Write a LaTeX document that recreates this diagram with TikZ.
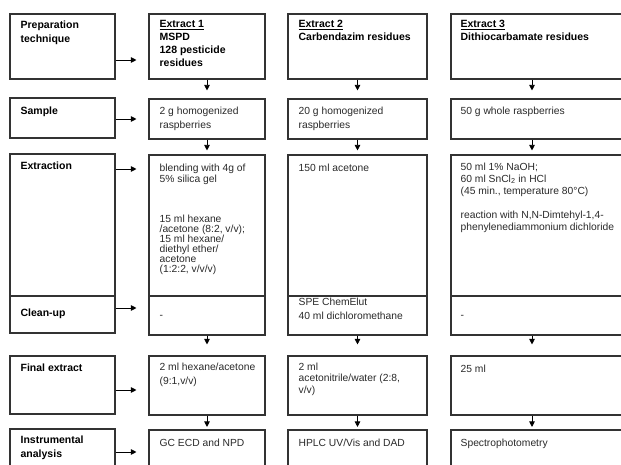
\documentclass[tikz,border=0pt]{standalone}
\usepackage{fontspec}
\setmainfont{Liberation Sans}
\usetikzlibrary{
  arrows.meta,
  positioning,
  calc
}
\definecolor{framegray}{HTML}{333333}
\definecolor{inkgray}{HTML}{2A2A2A}

\begin{document}
\begin{tikzpicture}[
    x=1pt, y=-1pt, % pixel grid of the page, y runs downwards
    stagebox/.style={
      rectangle, draw=framegray, line width=1.1pt, inner sep=0pt
    },
    stagelabel/.style={
      font=\bfseries\fontsize{10.5}{13.8}\selectfont,
      align=left, inner sep=0pt, anchor=north west
    },
    headtext/.style={
      stagelabel, font=\bfseries\fontsize{10.5}{12.9}\selectfont
    },
    methodtext/.style={
      font=\fontsize{10.3}{#1}\selectfont, text=inkgray,
      align=left, inner sep=0pt, anchor=north west
    },
    methodtext/.default=11.5,
    arrow/.style={-{Triangle[length=5.5pt,width=5.5pt]}, line width=0.8pt},
  ]

  % --- Canvas ---
  \useasboundingbox[fill=white] (0,0) rectangle (621,465);
  \clip (0,0) rectangle (621,465);

  % --- Row boxes (left) ---
  \foreach \row/\cy/\h in {prep/46.5/65, sample/118/40, extr/225/142,
                          clean/314.5/37, final/385/58, instr/452/46}
    \node[stagebox, minimum width=105pt, minimum height=\h pt] (l\row) at (62.5,\cy) {};

  % --- Extract columns ---
  \foreach \col/\cx/\w in {1/207/116, 2/357.5/139, 3/545.5/189}
    \foreach \row/\cy/\h in {prep/46.5/65, sample/119/40, extr/225.5/141,
                            clean/315.5/39, final/385.5/59, instr/453/46}
      \node[stagebox, minimum width=\w pt, minimum height=\h pt] (\row\col) at (\cx,\cy) {};

  % --- Row labels ---
  \node[stagelabel] (tprep)   at ($(lprep.north west)+(11,7)$)   {Preparation\\technique};
  \node[stagelabel] (tsample) at ($(lsample.north west)+(11,9.5)$) {Sample};
  \node[stagelabel] (textr)   at ($(lextr.north west)+(11,8)$)   {Extraction};
  \node[stagelabel] (tclean)  at ($(lclean.north west)+(11,13)$) {Clean-up};
  \node[stagelabel] (tfinal)  at ($(lfinal.north west)+(11,8)$)  {Final extract};
  \node[stagelabel] (tinstr)  at ($(linstr.north west)+(11,7)$)  {Instrumental\\analysis};

  % --- Column 1 ---
  \node[headtext] (hdr1) at ($(prep1.north west)+(11,7)$)
    {\underline{Extract 1}\\MSPD\\128 pesticide\\residues};
  \node[methodtext=14] (smp1) at ($(sample1.north west)+(11,8)$)
    {2 g homogenized\\raspberries};
  \node[methodtext=11] (ext1a) at ($(extr1.north west)+(11,9.3)$)
    {blending with 4g of\\5\% silica gel};
  \node[methodtext=10.1] (ext1b) at ($(extr1.north west)+(11,60.3)$)
    {15 ml hexane\\/acetone (8:2, v/v);\\15 ml hexane/\\diethyl ether/\\acetone\\(1:2:2, v/v/v)};
  \node[methodtext, anchor=base west] (cln1) at ($(clean1.north west)+(11,23.5)$) {-};
  \node[methodtext=14.3] (fin1) at ($(final1.north west)+(11,7)$)
    {2 ml hexane/acetone\\(9:1,v/v)};
  \node[methodtext] (ins1) at ($(instr1.north west)+(11,9.3)$) {GC ECD and NPD};

  % --- Column 2 ---
  \node[headtext] (hdr2) at ($(prep2.north west)+(11,7)$)
    {\underline{Extract 2}\\Carbendazim residues};
  \node[methodtext=14] (smp2) at ($(sample2.north west)+(11,8)$)
    {20 g homogenized\\raspberries};
  \node[methodtext] (ext2) at ($(extr2.north west)+(11,9.3)$) {150 ml acetone};
  \node[methodtext=13.5] (cln2) at ($(clean2.north west)+(11,2.5)$)
    {SPE ChemElut\\40 ml dichloromethane};
  \node[methodtext=11.7] (fin2) at ($(final2.north west)+(11,7)$)
    {2 ml\\acetonitrile/water (2:8,\\v/v)};
  \node[methodtext] (ins2) at ($(instr2.north west)+(11,9)$) {HPLC UV/Vis and DAD};

  % --- Column 3 ---
  \node[headtext] (hdr3) at ($(prep3.north west)+(10,7)$)
    {\underline{Extract 3}\\Dithiocarbamate residues};
  \node[methodtext] (smp3) at ($(sample3.north west)+(10,8)$) {50 g whole raspberries};
  \node[methodtext=12] (ext3) at ($(extr3.north west)+(10,8)$)
    {50 ml 1\% NaOH;\\60 ml SnCl\textsubscript{2} in HCl\\(45 min., temperature 80°C)\\[12pt]
     reaction with N,N-Dimtehyl-1,4-\\phenylenediammonium dichloride};
  \node[methodtext, anchor=base west] (cln3) at ($(clean3.north west)+(10,23.5)$) {-};
  \node[methodtext] (fin3) at ($(final3.north west)+(10,9.3)$) {25 ml};
  \node[methodtext] (ins3) at ($(instr3.north west)+(10,9.3)$) {Spectrophotometry};

  % --- Arrows: labels -> extract 1 ---
  \foreach \row/\dy in {prep/13.5, sample/1, extr/-56, clean/-6.5, final/5, instr/0} {
    \coordinate (from\row) at ($(l\row.east)+(0,\dy)$);
    \draw[arrow, shorten >=12pt] (from\row) -- (from\row -| \row1.west);
  }

  % --- Arrows: down each column ---
  \foreach \col/\dx in {1/0, 2/0, 3/-13.5}
    \foreach \src/\dst/\gap in {prep/sample/8, sample/extr/4, clean/final/11, final/instr/2.5}
      \draw[arrow, shorten >=\gap pt]
        ([xshift=\dx pt]\src\col.south) -- ([xshift=\dx pt]\dst\col.north);
\end{tikzpicture}
\end{document}
